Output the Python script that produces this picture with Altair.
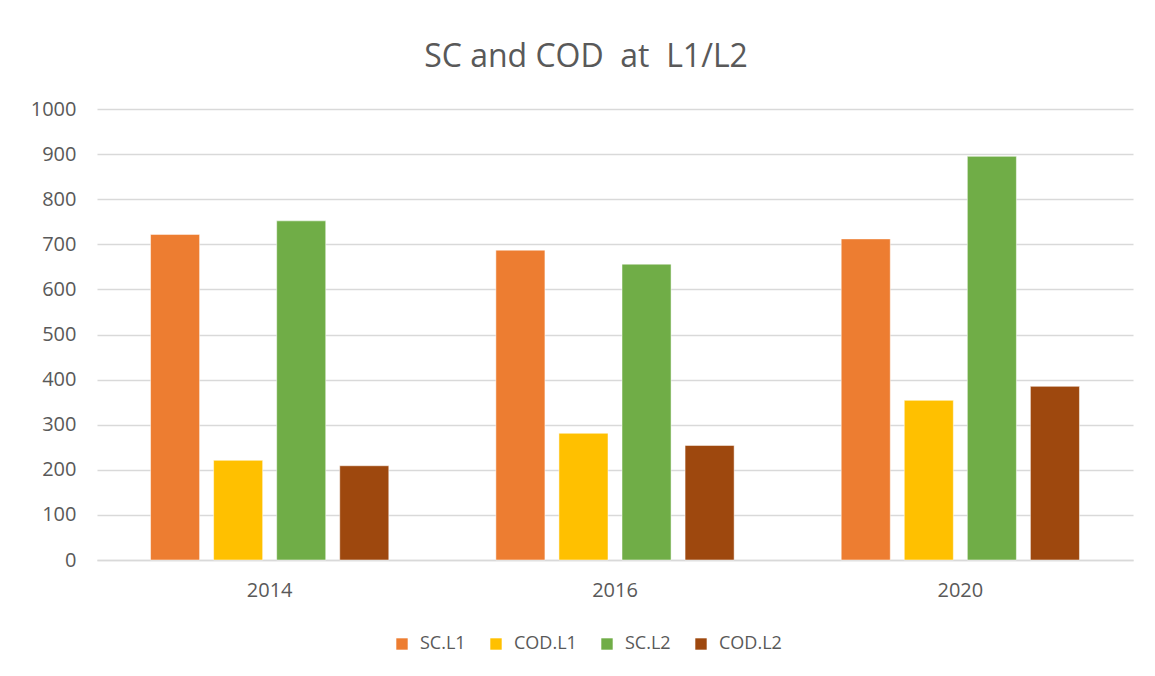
import altair as alt
import pandas as pd

years = ["2014", "2016", "2020"]
series = ["SC.L1", "COD.L1", "SC.L2", "COD.L2"]
sc_l1 = [722, 687, 712]
cod_l1 = [221, 281, 354]
sc_l2 = [752, 656, 895]
cod_l2 = [209, 254, 385]
colors = ["#ED7D31", "#FFC000", "#70AD47", "#9E480E"]

rows = []
for name, vals in zip(series, [sc_l1, cod_l1, sc_l2, cod_l2]):
    for y, v in zip(years, vals):
        rows.append({"year": y, "series": name, "value": v})
df = pd.DataFrame(rows)

FONT = "Open Sans"
GREY = "#595959"

chart = alt.Chart(df).mark_bar(stroke="white", strokeWidth=0.5).encode(
    x=alt.X("year:N", sort=years, title=None,
            scale=alt.Scale(paddingInner=0, paddingOuter=0),
            axis=alt.Axis(labelAngle=0, ticks=False, domain=True, domainColor="#d9d9d9",
                          domainWidth=1.5, labelPadding=20, labelFontSize=20,
                          labelColor=GREY, labelFont=FONT, grid=False)),
    xOffset=alt.XOffset("series:N", sort=series,
                        scale=alt.Scale(paddingInner=0.222, paddingOuter=0.849)),
    y=alt.Y("value:Q", title=None,
            scale=alt.Scale(domain=[0, 1000], nice=False),
            axis=alt.Axis(values=list(range(0, 1001, 100)), format="d", ticks=False,
                          domain=False, gridColor="#d9d9d9", gridWidth=1.5,
                          labelPadding=21, labelFontSize=20, labelColor=GREY,
                          labelFont=FONT)),
    color=alt.Color("series:N", sort=series,
                    scale=alt.Scale(domain=series, range=colors),
                    legend=alt.Legend(title=None, orient="none", direction="horizontal",
                                      legendX=296, legendY=526, symbolType="square",
                                      symbolSize=130, symbolStrokeWidth=0,
                                      labelFontSize=18, labelColor=GREY, labelFont=FONT,
                                      columnPadding=21, labelOffset=9)),
).properties(
    width=1036,
    height=451,
    title=alt.TitleParams("SC and COD\u00a0\u00a0at\u00a0\u00a0L1/L2", fontSize=32,
                          color=GREY, font=FONT, fontWeight="normal",
                          anchor="middle", offset=25, dx=-29),
    autosize=alt.AutoSizeParams(type="none"),
    padding={"left": 89, "top": 101, "right": 14, "bottom": 100},
).configure_view(stroke=None)

chart.save("out.html", embed_options={"renderer": "svg", "actions": False})
